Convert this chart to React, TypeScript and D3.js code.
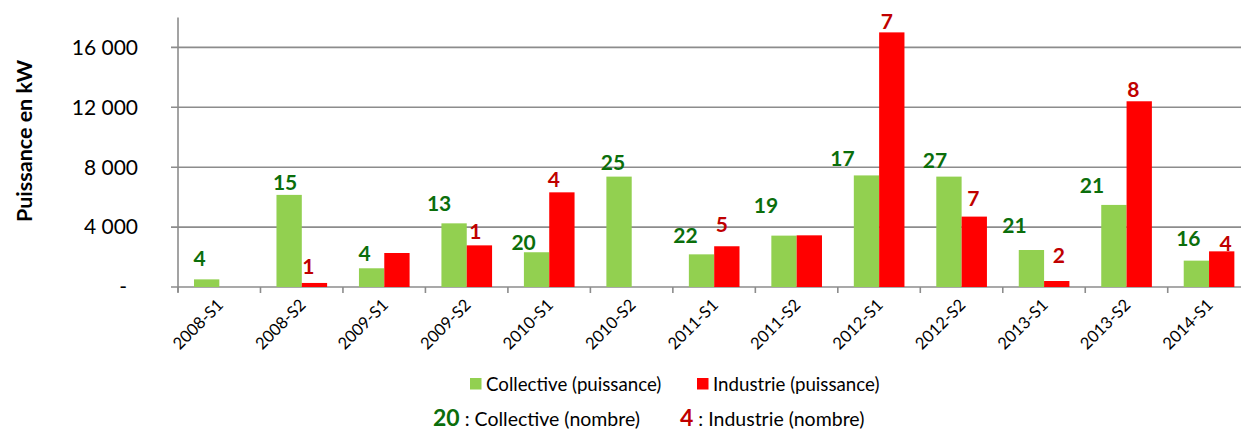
import React from "react";
import * as d3 from "d3";

const categories = ["2008-S1","2008-S2","2009-S1","2009-S2","2010-S1","2010-S2","2011-S1","2011-S2","2012-S1","2012-S2","2013-S1","2013-S2","2014-S1"];
const collectivePower = [510, 6150, 1250, 4250, 2320, 7370, 2180, 3430, 7450, 7370, 2470, 5480, 1760];
const industryPower = [0, 270, 2270, 2780, 6320, 0, 2720, 3450, 17000, 4700, 400, 12400, 2380];
const collectiveCount: (number | null)[] = [4, 15, 4, 13, 20, 25, 22, 19, 17, 27, 21, 21, 16];
const industryCount: (number | null)[] = [null, 1, null, 1, 4, null, 5, null, 7, 7, 2, 8, 4];
const yTicks = [0, 4000, 8000, 12000, 16000];

// label nudges (px) relative to bar centre / bar top, as placed in the original
const collectiveNudge = [[-7,-21],[-4,-12],[-7,-15],[-15,-20],[-13,-10],[-6,-14],[-16,-19],[-18,-30],[-24,-17],[-14,-16],[-17,-24],[-22,-19],[-8,-22]];
const industryNudge = [[0,0],[-6,-16],[0,0],[-4,-14],[-8,-13],[0,0],[-5,-22],[0,0],[-5,-11],[-1,-18],[2,-25],[-6,-12],[4,-8]];

const W = 1241, H = 430;
const FONT = "Lato, 'Open Sans', sans-serif";
const GREEN = "#92D050", RED = "#FF0000", DGREEN = "#0B6E0B", DRED = "#C00000";
const GRID = "#8C8C8C";

export default function App() {
  const left = 178, right = 1250.2, top = 17.4, bottom = 287;
  const x = d3.scaleBand().domain(categories).range([left, right]).padding(0);
  const y = d3.scaleLinear().domain([0, 18000]).range([bottom, top]);
  const step = x.bandwidth();
  const bw = step * 0.307;
  const off = step * 0.194;
  const fmt = (v: number) => (v === 0 ? "-" : d3.format(",")(v).replace(/,/g, " "));

  return (
    <svg width={W} height={H} style={{ position: "absolute", left: 0, top: 0 }} fontFamily={FONT}>
      <rect width={W} height={H} fill="#fff" />
      {yTicks.map((t) => (
        <g key={t}>
          <line x1={left - 7} x2={W} y1={y(t)} y2={y(t)} stroke={GRID} strokeWidth={1.6} />
          <text x={t === 0 ? 127 : 138} y={y(t)} dy="0.35em" textAnchor="end" fontSize={21} fill="#000">
            {fmt(t)}
          </text>
        </g>
      ))}
      <line x1={left} x2={left} y1={top} y2={bottom + 5} stroke={GRID} strokeWidth={1.6} />
      {categories.map((c) => (
        <line key={"t" + c} x1={x(c)!} x2={x(c)!} y1={bottom} y2={bottom + 6} stroke={GRID} strokeWidth={1.6} />
      ))}
      {categories.map((c, i) => (
        <g key={c}>
          <rect x={x(c)! + off} width={bw} y={y(collectivePower[i])} height={bottom - y(collectivePower[i])} fill={GREEN} />
          {industryPower[i] > 0 && (
            <rect x={x(c)! + off + bw} width={bw} y={y(industryPower[i])} height={bottom - y(industryPower[i])} fill={RED} />
          )}
        </g>
      ))}
      {categories.map((c, i) => {
        const cc = collectiveCount[i];
        const ic = industryCount[i];
        const gx = x(c)! + off + bw / 2;
        const rx = x(c)! + off + bw * 1.5;
        return (
          <g key={"l" + c} fontWeight="bold" fontSize={21}>
            {cc !== null && (
              <text x={gx + collectiveNudge[i][0]} y={y(collectivePower[i]) + collectiveNudge[i][1]} dy="0.35em" textAnchor="middle" fill={DGREEN}>
                {cc}
              </text>
            )}
            {ic !== null && (
              <text x={rx + industryNudge[i][0]} y={y(industryPower[i]) + industryNudge[i][1]} dy="0.35em" textAnchor="middle" fill={DRED}>
                {ic}
              </text>
            )}
          </g>
        );
      })}
      {categories.map((c) => {
        const cx = x(c)! + step / 2 + 1;
        const cy = 302;
        return (
          <text key={"x" + c} x={cx} y={cy} dy="0.35em" textAnchor="end" fontSize={16.5} transform={`rotate(-45 ${cx} ${cy})`} fill="#000">
            {c}
          </text>
        );
      })}
      <text transform={`translate(24 141) rotate(-90)`} textAnchor="middle" fontWeight="bold" fontSize={21.5} fill="#000" dy="0.35em">
        Puissance en kW
      </text>
      {/* legend */}
      <rect x={470} y={378} width={11.5} height={11.5} fill={GREEN} />
      <text x={486} y={384} dy="0.35em" fontSize={18.7} fill="#000">Collective (puissance)</text>
      <rect x={697} y={378} width={11.5} height={11.5} fill={RED} />
      <text x={713} y={384} dy="0.35em" fontSize={18.7} fill="#000">Industrie (puissance)</text>
      <text x={433} y={426} fontSize={19.5} fill="#000">
        <tspan fontWeight="bold" fontSize={23} fill={DGREEN}>20</tspan>
        <tspan> : Collective (nombre)</tspan>
      </text>
      <text x={680} y={426} fontSize={19.5} fill="#000">
        <tspan fontWeight="bold" fontSize={23} fill={DRED}>4</tspan>
        <tspan> : Industrie (nombre)</tspan>
      </text>
    </svg>
  );
}
